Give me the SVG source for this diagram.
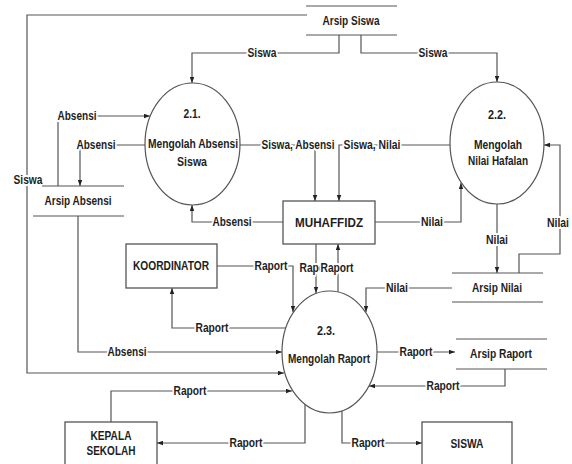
<svg xmlns="http://www.w3.org/2000/svg" width="572" height="464" viewBox="0 0 572 464">
  <style>
    .ln { fill: none; stroke: #555; stroke-width: 1.2; }
    .fl { fill: none; stroke: #555; stroke-width: 1.2; marker-end: url(#arr); }
    .box { fill: #fff; stroke: #555; stroke-width: 1.3; }
    .proc { fill: #fff; stroke: #555; stroke-width: 1.2; }
    text { font-family: "Liberation Sans", Arial, sans-serif; font-weight: bold; font-size: 12px; fill: #1e1e1e; text-anchor: middle; }
    .lbl { paint-order: stroke; stroke: #fff; stroke-width: 4px; stroke-linejoin: round; }
  </style>
  <defs>
    <marker id="arr" viewBox="0 0 8 6" refX="8" refY="3" markerWidth="6" markerHeight="5" orient="auto" markerUnits="userSpaceOnUse">
      <path d="M0,0 L8,3 L0,6 z" fill="#222"/>
    </marker>
  </defs>
  <rect width="572" height="464" fill="#fff"/>

  <!-- flows between processes, stores and entities -->
  <g id="connectors">
    <path class="fl" d="M307,15 H27 V373 H284"/>
    <path class="fl" d="M339,35 V53 H192 V83"/>
    <path class="fl" d="M361,35 V53 H497 V82"/>
    <path class="fl" d="M58,186 V116 H150"/>
    <path class="fl" d="M145,145 H80 V186"/>
    <path class="fl" d="M78,216 V352 H282"/>
    <path class="fl" d="M240,145 H315 V201"/>
    <path class="fl" d="M450,145 H339 V201"/>
    <path class="fl" d="M283,222 H192 V205"/>
    <path class="fl" d="M375,222 H461 V183"/>
    <path class="fl" d="M497,204 V273"/>
    <path class="fl" d="M519,273 V254 H560 V145 H544"/>
    <path class="fl" d="M452,288 H366 V312"/>
    <path class="fl" d="M377,352 H455"/>
    <path class="fl" d="M505,369 V386 H369"/>
    <path class="fl" d="M342,411 V443 H422"/>
    <path class="fl" d="M305,404 V443 H157"/>
    <path class="fl" d="M111,422 V391 H292"/>
    <path class="fl" d="M217,266 H293 V312"/>
    <path class="fl" d="M286,328 H172 V288"/>
    <path class="fl" d="M316,244 V293"/>
    <path class="fl" d="M338,293 V244"/>

    <!-- flow labels -->
    <text class="lbl" x="28" y="184" textLength="29" lengthAdjust="spacingAndGlyphs">Siswa</text>
    <text class="lbl" x="262" y="57" textLength="29" lengthAdjust="spacingAndGlyphs">Siswa</text>
    <text class="lbl" x="433" y="57" textLength="29" lengthAdjust="spacingAndGlyphs">Siswa</text>
    <text class="lbl" x="77" y="120" textLength="39" lengthAdjust="spacingAndGlyphs">Absensi</text>
    <text class="lbl" x="96" y="149" textLength="39" lengthAdjust="spacingAndGlyphs">Absensi</text>
    <text class="lbl" x="127" y="356" textLength="39" lengthAdjust="spacingAndGlyphs">Absensi</text>
    <text class="lbl" x="298" y="149" textLength="73" lengthAdjust="spacingAndGlyphs">Siswa, Absensi</text>
    <text class="lbl" x="372" y="149" textLength="57" lengthAdjust="spacingAndGlyphs">Siswa, Nilai</text>
    <text class="lbl" x="232" y="226" textLength="39" lengthAdjust="spacingAndGlyphs">Absensi</text>
    <text class="lbl" x="432" y="226" textLength="22" lengthAdjust="spacingAndGlyphs">Nilai</text>
    <text class="lbl" x="497" y="244" textLength="22" lengthAdjust="spacingAndGlyphs">Nilai</text>
    <text class="lbl" x="558" y="227" textLength="22" lengthAdjust="spacingAndGlyphs">Nilai</text>
    <text class="lbl" x="397" y="292" textLength="22" lengthAdjust="spacingAndGlyphs">Nilai</text>
    <text class="lbl" x="416" y="356" textLength="33" lengthAdjust="spacingAndGlyphs">Raport</text>
    <text class="lbl" x="443" y="390" textLength="33" lengthAdjust="spacingAndGlyphs">Raport</text>
    <text class="lbl" x="368" y="447" textLength="33" lengthAdjust="spacingAndGlyphs">Raport</text>
    <text class="lbl" x="246" y="447" textLength="33" lengthAdjust="spacingAndGlyphs">Raport</text>
    <text class="lbl" x="190" y="395" textLength="33" lengthAdjust="spacingAndGlyphs">Raport</text>
    <text class="lbl" x="271" y="270" textLength="33" lengthAdjust="spacingAndGlyphs">Raport</text>
    <text class="lbl" x="212" y="332" textLength="33" lengthAdjust="spacingAndGlyphs">Raport</text>
    <text class="lbl" x="316" y="272" textLength="33" lengthAdjust="spacingAndGlyphs">Raport</text>
    <text class="lbl" x="337" y="272" textLength="33" lengthAdjust="spacingAndGlyphs">Raport</text>
  </g>

  <!-- processes -->
  <g id="p21">
    <ellipse class="proc" cx="192.5" cy="144" rx="47.5" ry="61"/>
    <text x="192" y="118" textLength="17" lengthAdjust="spacingAndGlyphs">2.1.</text>
    <text x="193" y="148" textLength="90" lengthAdjust="spacingAndGlyphs">Mengolah Absensi</text>
    <text x="192" y="166" textLength="30" lengthAdjust="spacingAndGlyphs">Siswa</text>
  </g>
  <g id="p22">
    <ellipse class="proc" cx="497" cy="143" rx="47" ry="61"/>
    <text x="497" y="119" textLength="18" lengthAdjust="spacingAndGlyphs">2.2.</text>
    <text x="498" y="149" textLength="48" lengthAdjust="spacingAndGlyphs">Mengolah</text>
    <text x="498" y="165" textLength="60" lengthAdjust="spacingAndGlyphs">Nilai Hafalan</text>
  </g>
  <g id="p23">
    <ellipse class="proc" cx="329.5" cy="352" rx="47.5" ry="61"/>
    <text x="326" y="335" textLength="18" lengthAdjust="spacingAndGlyphs">2.3.</text>
    <text x="329" y="363" textLength="82" lengthAdjust="spacingAndGlyphs">Mengolah Raport</text>
  </g>

  <!-- data stores -->
  <g id="arsip-siswa">
    <path class="ln" d="M306,6 H397 M306,35 H397"/>
    <text x="351" y="25" textLength="57" lengthAdjust="spacingAndGlyphs">Arsip Siswa</text>
  </g>
  <g id="arsip-absensi">
    <path class="ln" d="M42,186 H124 M33,216 H124"/>
    <text x="78" y="205" textLength="67" lengthAdjust="spacingAndGlyphs">Arsip Absensi</text>
  </g>
  <g id="arsip-nilai">
    <path class="ln" d="M452,273 H543 M452,302 H543"/>
    <text x="497" y="292" textLength="50" lengthAdjust="spacingAndGlyphs">Arsip Nilai</text>
  </g>
  <g id="arsip-raport">
    <path class="ln" d="M456,339 H547 M456,369 H547"/>
    <text x="501" y="358" textLength="62" lengthAdjust="spacingAndGlyphs">Arsip Raport</text>
  </g>

  <!-- external entities -->
  <g id="muhaffidz">
    <rect class="box" x="283" y="201" width="92" height="43"/>
    <text x="329" y="227" textLength="68" lengthAdjust="spacingAndGlyphs">MUHAFFIDZ</text>
  </g>
  <g id="koordinator">
    <rect class="box" x="126" y="244" width="91" height="44"/>
    <text x="171" y="270" textLength="76" lengthAdjust="spacingAndGlyphs">KOORDINATOR</text>
  </g>
  <g id="kepala-sekolah">
    <rect class="box" x="65" y="422" width="92" height="50"/>
    <text x="111" y="440" textLength="41" lengthAdjust="spacingAndGlyphs">KEPALA</text>
    <text x="111" y="455" textLength="49" lengthAdjust="spacingAndGlyphs">SEKOLAH</text>
  </g>
  <g id="siswa">
    <rect class="box" x="422" y="422" width="90" height="50"/>
    <text x="467" y="448" textLength="33" lengthAdjust="spacingAndGlyphs">SISWA</text>
  </g>
</svg>
